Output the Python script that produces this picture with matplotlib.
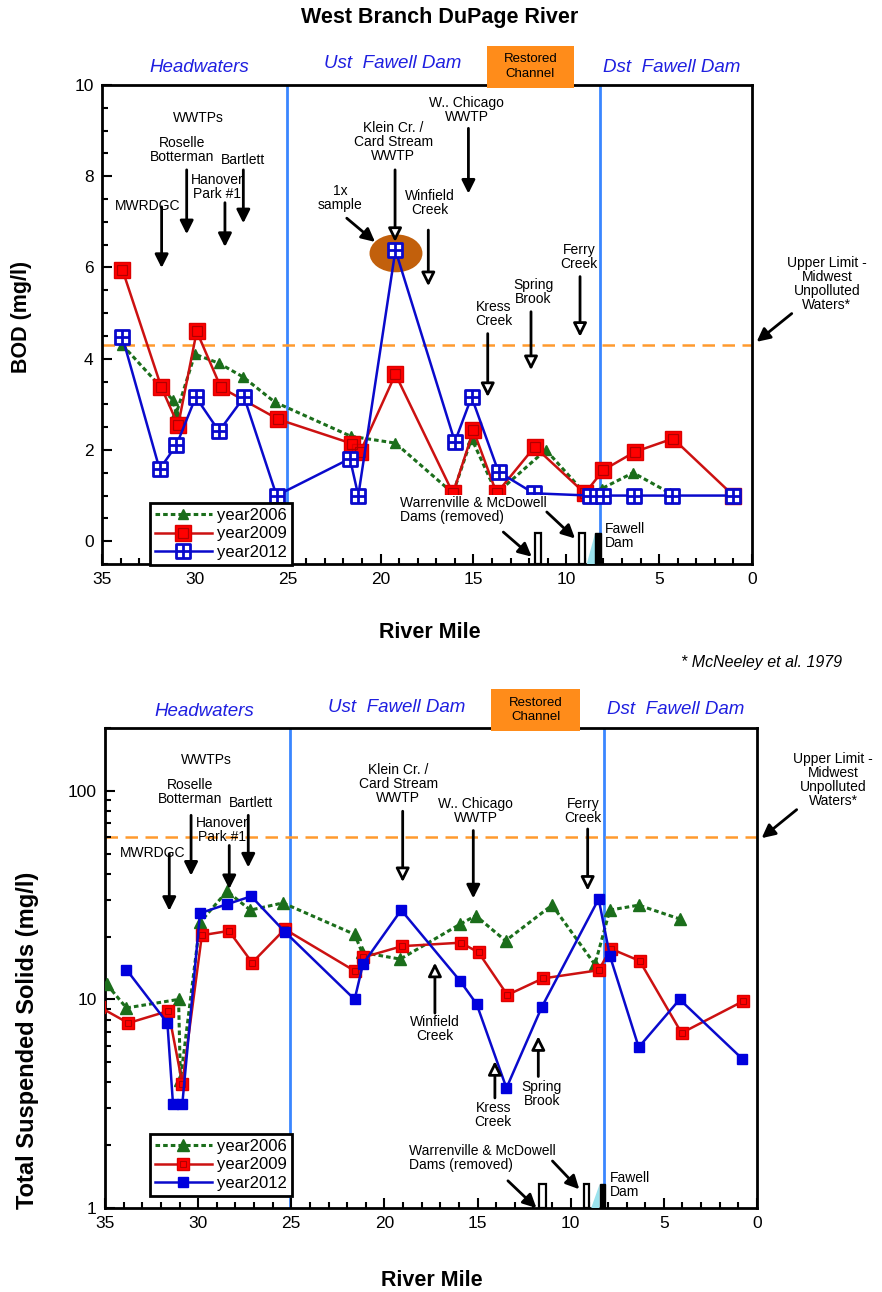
import matplotlib
matplotlib.use("Agg")
import matplotlib.pyplot as plt
import numpy as np
from matplotlib.path import Path
from matplotlib.patches import Ellipse, Rectangle, Polygon
from matplotlib.ticker import MultipleLocator, FixedLocator, FixedFormatter, LogLocator, NullFormatter

plt.rcParams.update({
    "font.family": ["Liberation Sans", "DejaVu Sans"],
    "font.size": 11,
})

# ---- BOD (mg/l) by river mile ----
bod06_mile = [33.9, 31.2, 31.0, 30.0, 28.7, 27.4, 25.7, 21.6, 19.2, 16.1, 15.1, 13.75, 11.1, 9.0, 8.1, 6.4, 4.4]
bod06 = [4.3, 3.1, 2.8, 4.1, 3.9, 3.6, 3.05, 2.3, 2.15, 1.05, 2.25, 1.05, 2.0, 1.05, 1.15, 1.5, 1.05]
bod09_mile = [33.9, 31.8, 30.9, 29.9, 28.6, 25.5, 21.55, 21.1, 19.2, 16.1, 15.0, 13.75, 11.7, 9.0, 8.0, 6.3, 4.25, 1.0]
bod09 = [5.95, 3.37, 2.54, 4.6, 3.37, 2.67, 2.14, 1.95, 3.66, 1.05, 2.43, 1.05, 2.07, 1.05, 1.56, 1.96, 2.25, 1.0]
bod12_mile = [33.9, 31.9, 31.0, 29.95, 28.7, 27.35, 25.6, 21.65, 21.2, 19.2, 16.0, 15.1, 13.65, 11.75, 8.7, 8.05, 6.35, 4.3, 1.0]
bod12 = [4.47, 1.58, 2.1, 3.16, 2.41, 3.16, 1.0, 1.81, 1.0, 6.38, 2.18, 3.16, 1.52, 1.05, 1.0, 1.0, 1.0, 1.0, 1.0]

# ---- TSS (mg/l) by river mile ----
tss06_mile = [34.9, 33.85, 31.05, 30.95, 29.9, 28.45, 27.2, 25.45, 21.6, 21.2, 19.15, 15.95, 15.1, 13.5, 11.0, 8.7, 7.9, 6.35, 4.15]
tss06 = [11.8, 9.1, 10.0, 4.1, 23.4, 33.0, 26.8, 29.0, 20.5, 16.8, 15.6, 22.9, 25.2, 19.1, 28.3, 14.7, 26.8, 28.3, 24.3]
tss09_mile = [35.3, 33.75, 31.6, 30.85, 29.8, 28.35, 27.1, 25.35, 21.6, 21.15, 19.05, 15.9, 14.95, 13.4, 11.5, 8.5, 7.85, 6.3, 4.05, 0.75]
tss09 = [9.2, 7.7, 8.8, 3.95, 20.3, 21.3, 15.0, 21.7, 13.7, 15.9, 18.0, 18.7, 16.8, 10.5, 12.6, 13.8, 17.5, 15.3, 6.9, 9.8]
tss12_mile = [33.85, 31.65, 31.35, 30.85, 29.9, 28.45, 27.15, 25.35, 21.6, 21.15, 19.1, 15.95, 15.05, 13.45, 11.55, 8.5, 7.9, 6.35, 4.15, 0.8]
tss12 = [13.9, 7.7, 3.15, 3.15, 25.9, 28.6, 31.2, 21.1, 10.0, 14.8, 26.8, 12.3, 9.5, 3.76, 9.2, 30.3, 16.2, 5.9, 10.0, 5.2]

bod_limit = 4.3
tss_limit = 60
reach_breaks = [25.05, 8.2]

GREEN = "#1b6e1b"
RED_LINE = "#cc1111"
RED_FILL = "#ff0000"
BLUE = "#0a0acc"
VBLUE = "#3a86ff"
ORANGE = "#ff9a2e"
SECT = "#1f1fe0"
ANN = 10

W, H = 882, 1292
fig = plt.figure(figsize=(W / 100, H / 100), dpi=100)

def fx(px):
    return px / W

def fy(py):
    return 1 - py / H

# grid-square marker for the 2012 BOD series
grid_sq = Path([(-1, -1), (1, -1), (1, 1), (-1, 1), (-1, -1), (0, -1), (0, 1), (-1, 0), (1, 0)],
               [Path.MOVETO, Path.LINETO, Path.LINETO, Path.LINETO, Path.CLOSEPOLY,
                Path.MOVETO, Path.LINETO, Path.MOVETO, Path.LINETO])

def arrow(ax, x0, y0, x1, y1, filled=True):
    ax.annotate("", xy=(x1, y1), xytext=(x0, y0), annotation_clip=False, zorder=8,
                arrowprops=dict(arrowstyle="-|>", lw=2, mutation_scale=20,
                                fc="black" if filled else "white", ec="black",
                                shrinkA=0, shrinkB=0))

def label(ax, x, y, txt, **kw):
    opts = dict(ha="center", va="center", fontsize=ANN, linespacing=1.0, zorder=7)
    opts.update(kw)
    return ax.text(x, y, txt, **opts)

def dams(ax, base, top, tri_top):
    for x0, x1 in [(11.7, 11.35), (9.3, 9.0)]:
        ax.add_patch(Rectangle((x1, base), x0 - x1, top - base, fc="white", ec="black", lw=1.6, zorder=6))
    ax.add_patch(Polygon([(8.9, base), (8.45, tri_top), (8.45, base)], closed=True,
                         fc="#9be3ee", ec="none", zorder=5))
    ax.add_patch(Rectangle((8.15, base), 0.3, top - base, fc="black", ec="black", lw=1, zorder=6))

def common(ax, limit):
    ax.set_xlim(35, 0)
    for xb in reach_breaks:
        ax.axvline(xb, color=VBLUE, lw=2, zorder=1)
    ax.axhline(limit, color=ORANGE, lw=1.8, dashes=(5, 3), zorder=1)
    ax.xaxis.set_major_locator(MultipleLocator(5))
    ax.xaxis.set_minor_locator(MultipleLocator(1))
    ax.tick_params(which="both", direction="in", top=False, right=False, width=1.5)
    ax.tick_params(which="major", length=7, labelsize=12.5, pad=6)
    ax.tick_params(which="minor", length=4)
    for s in ax.spines.values():
        s.set_linewidth(2)

def legend(ax, handles, top_px):
    lg = ax.legend(handles, ["year2006", "year2009", "year2012"],
                   loc="upper left", bbox_to_anchor=(fx(150), fy(top_px)), bbox_transform=fig.transFigure,
                   fontsize=12, frameon=True, fancybox=False, edgecolor="black", framealpha=1,
                   handlelength=3.4, borderpad=0.3, labelspacing=0.2, handletextpad=0.3, borderaxespad=0)
    lg.get_frame().set_linewidth(2)
    lg.set_zorder(10)

def sections(ytop, box):
    fig.text(fx(box[0] - 287), fy(ytop), "Headwaters", color=SECT, style="italic", fontsize=13.5, ha="center", va="center")
    fig.text(fx(box[0] - 94), fy(ytop - 4), "Ust  Fawell Dam", color=SECT, style="italic", fontsize=13.5, ha="center", va="center")
    fig.text(fx(box[0] + 185), fy(ytop - 1), "Dst  Fawell Dam", color=SECT, style="italic", fontsize=13.5, ha="center", va="center")
    fig.add_artist(Rectangle((fx(box[0]), fy(box[3])), (box[2] - box[0]) / W, (box[3] - box[1]) / H,
                             transform=fig.transFigure, fc="#ff8c1a", ec="none"))
    fig.text(fx((box[0] + box[2]) / 2), fy((box[1] + box[3]) / 2), "Restored\nChannel", fontsize=9.5,
             ha="center", va="center", linespacing=1.3)

# ================= BOD panel =================
ax1 = fig.add_axes([fx(102), fy(564), (752 - 102) / W, (564 - 85) / H])
common(ax1, bod_limit)
ax1.set_ylim(-0.5, 10)
ax1.yaxis.set_major_locator(FixedLocator([0, 2, 4, 6, 8, 10]))
ax1.yaxis.set_minor_locator(MultipleLocator(0.5))

ax1.add_patch(Ellipse((19.17, 6.31), 2.85, 0.83, fc="#c2600c", ec="none", zorder=2))
l06, = ax1.plot(bod06_mile, bod06, color=GREEN, lw=2.2, dashes=(1.5, 1), marker="^", ms=7, mec=GREEN, zorder=3)
l09, = ax1.plot(bod09_mile, bod09, color=RED_LINE, lw=1.8, marker="s", ms=12, mfc=RED_FILL, mec="#dd0000", zorder=4)
l09b, = ax1.plot(bod09_mile, bod09, ls="none", marker="s", ms=6.5, mfc="none", mec="#b00000", mew=0.9, zorder=4)
l12, = ax1.plot(bod12_mile, bod12, color=BLUE, lw=1.8, marker=grid_sq, ms=10, mfc="white", mec=BLUE, mew=2, zorder=5)

for txt, x, y in [("WWTPs", 29.83, 9.28), ("Roselle\nBotterman", 30.71, 8.57), ("Bartlett", 27.39, 8.36),
                  ("Hanover\nPark #1", 28.82, 7.77), ("MWRDGC", 32.56, 7.35), ("1x\nsample", 22.18, 7.52),
                  ("Klein Cr. /\nCard Stream\nWWTP", 19.31, 8.76), ("Winfield\nCreek", 17.34, 7.41),
                  ("W.. Chicago\nWWTP", 15.36, 9.46), ("Kress\nCreek", 13.89, 4.98),
                  ("Spring\nBrook", 11.77, 5.46), ("Ferry\nCreek", 9.31, 6.24),
                  ("Upper Limit -\nMidwest\nUnpolluted\nWaters*", -4.03, 5.64)]:
    label(ax1, x, y, txt)
for x0, y0, x1, y1, f in [(31.79, 7.33, 31.79, 5.99, True), (30.44, 8.14, 30.44, 6.73, True),
                          (28.38, 7.42, 28.38, 6.45, True), (27.39, 8.14, 27.39, 6.97, True),
                          (21.82, 7.08, 20.30, 6.56, True), (19.22, 8.14, 19.22, 6.56, False),
                          (17.43, 6.82, 17.43, 5.59, False), (15.27, 9.05, 15.27, 7.62, True),
                          (14.23, 4.55, 14.23, 3.16, False), (11.9, 5.03, 11.9, 3.75, False),
                          (9.26, 5.8, 9.26, 4.48, False), (-2.14, 4.99, -0.25, 4.37, True),
                          (13.39, 0.2, 11.86, -0.34, True), (11.05, 0.64, 9.53, 0.06, True)]:
    arrow(ax1, x0, y0, x1, y1, f)
label(ax1, 18.95, 0.68, "Warrenville & McDowell\nDams (removed)", ha="left", linespacing=1.05, zorder=6,
      bbox=dict(fc="white", ec="none", pad=0.5))
label(ax1, 7.91, 0.11, "Fawell\nDam", ha="left", linespacing=1.05)
dams(ax1, -0.5, 0.17, 0.17)
legend(ax1, [l06, (l09, l09b), l12], 503)

sections(68, (486.7, 46, 574, 87.7))
fig.text(fx(440), fy(18), "West Branch DuPage River", fontsize=15.5, weight="bold", ha="center", va="center")
fig.text(fx(22), fy(317), "BOD (mg/l)", fontsize=15.5, weight="bold", rotation=90, ha="center", va="center")
fig.text(fx(430), fy(633), "River Mile", fontsize=15.5, weight="bold", ha="center", va="center")
fig.text(fx(842), fy(662), "* McNeeley et al. 1979", fontsize=11.5, style="italic", ha="right", va="center")

# ================= TSS panel =================
ax2 = fig.add_axes([fx(105), fy(1208), (757 - 105) / W, (1208 - 728) / H])
common(ax2, tss_limit)
ax2.set_yscale("log")
ax2.set_ylim(1, 200)
ax2.yaxis.set_major_locator(FixedLocator([1, 10, 100]))
ax2.yaxis.set_major_formatter(FixedFormatter(["1", "10", "100"]))
ax2.yaxis.set_minor_locator(LogLocator(base=10, subs=np.arange(2, 10)))
ax2.yaxis.set_minor_formatter(NullFormatter())
ax2.xaxis.set_major_locator(MultipleLocator(5))

m06, = ax2.plot(tss06_mile, tss06, color=GREEN, lw=2.2, dashes=(1.5, 1), marker="^", ms=8, mec=GREEN, zorder=3)
m09, = ax2.plot(tss09_mile, tss09, color=RED_LINE, lw=1.8, marker="s", ms=9, mfc=RED_FILL, mec="#dd0000", zorder=4)
m09b, = ax2.plot(tss09_mile, tss09, ls="none", marker="s", ms=5, mfc="none", mec="#b00000", mew=0.8, zorder=4)
m12, = ax2.plot(tss12_mile, tss12, color=BLUE, lw=1.8, marker="s", ms=7, mfc="#0000dd", mec="#0000dd", zorder=5)

for txt, x, y in [("WWTPs", 29.58, 141), ("Roselle\nBotterman", 30.44, 99), ("Bartlett", 27.16, 87.6),
                  ("Hanover\nPark #1", 28.7, 64.9), ("MWRDGC", 32.46, 50.2),
                  ("Klein Cr. /\nCard Stream\nWWTP", 19.26, 108), ("W.. Chicago\nWWTP", 15.1, 80.4),
                  ("Ferry\nCreek", 9.33, 80.4), ("Upper Limit -\nMidwest\nUnpolluted\nWaters*", -4.09, 112.6),
                  ("Winfield\nCreek", 17.29, 7.24), ("Kress\nCreek", 14.16, 2.78), ("Spring\nBrook", 11.56, 3.52)]:
    label(ax2, x, y, txt)
for x0, y0, x1, y1, f in [(31.55, 49.9, 31.55, 26.6, True), (30.38, 76.3, 30.38, 39.2, True),
                          (28.33, 54.7, 28.33, 33.8, True), (27.31, 76.3, 27.31, 42.9, True),
                          (19.02, 79.8, 19.02, 36.5, False), (15.23, 64.5, 15.23, 30.5, True),
                          (9.09, 65.6, 9.09, 33.2, False), (-2.13, 81.2, -0.25, 59.3, True),
                          (17.29, 8.6, 17.29, 15.0, False), (14.07, 3.37, 14.07, 5.06, False),
                          (11.74, 4.27, 11.74, 6.66, False),
                          (13.37, 1.35, 11.84, 1.0, True), (10.98, 1.68, 9.54, 1.23, True)]:
    arrow(ax2, x0, y0, x1, y1, f)
label(ax2, 18.68, 1.74, "Warrenville & McDowell\nDams (removed)", ha="left", linespacing=1.05, zorder=6,
      bbox=dict(fc="white", ec="none", pad=0.5))
label(ax2, 7.91, 1.29, "Fawell\nDam", ha="left", linespacing=1.05)
dams(ax2, 1, 1.3, 1.3)
legend(ax2, [m06, (m09, m09b), m12], 1134)

sections(711, (491, 689, 580, 731))
fig.text(fx(28), fy(1040), "Total Suspended Solids (mg/l)", fontsize=17, weight="bold", rotation=90, ha="center", va="center")
fig.text(fx(432), fy(1280), "River Mile", fontsize=15.5, weight="bold", ha="center", va="center")

fig.savefig("out.png", dpi=100)
plt.close(fig)
